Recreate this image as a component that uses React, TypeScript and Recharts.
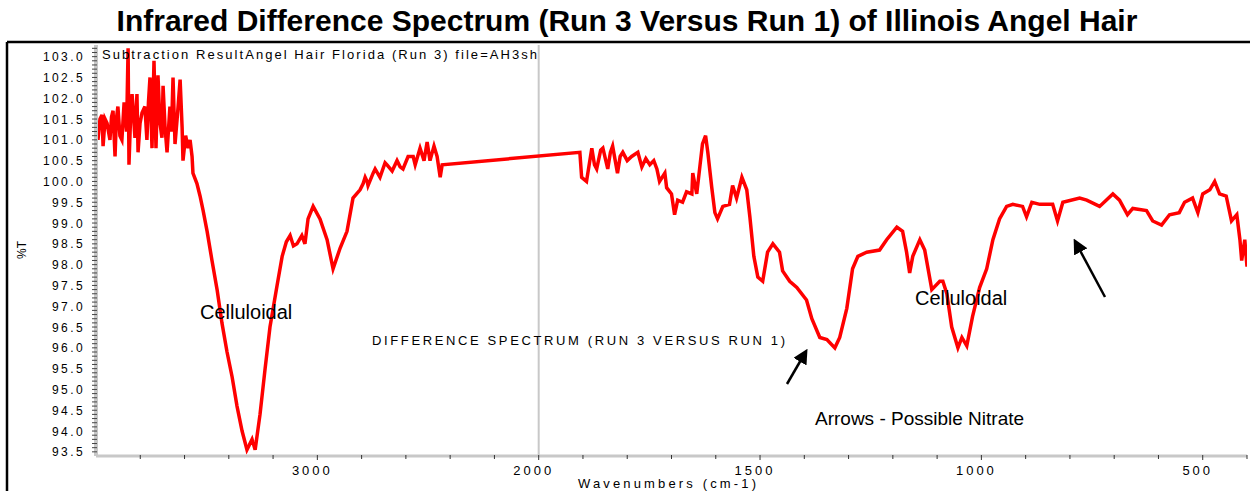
import React from "react";
import { LineChart, Line, XAxis, YAxis, ReferenceLine } from "recharts";

const W = 1250;
const H = 491;
const PLOT_LEFT = 96;
const PLOT_BOTTOM = 456;
const FONT = "Liberation Sans, Arial, sans-serif";

// wavenumber (cm-1), high to low
const wavenumbers = [
  3995, 3991, 3982, 3973, 3968, 3959, 3950, 3937, 3930, 3923, 3914, 3908, 3901, 3892, 3883, 3873,
  3862, 3855, 3851, 3844, 3837, 3824, 3815, 3810, 3801, 3792, 3779, 3770, 3763, 3756, 3747, 3738,
  3729, 3720, 3711, 3702, 3697, 3688, 3679, 3666, 3659, 3652, 3643, 3632, 3620, 3611, 3607, 3595,
  3584, 3575, 3566, 3562, 3544, 3530, 3516, 3498, 3476, 3453, 3431, 3408, 3385, 3363, 3340,
  3318, 3295, 3281, 3259, 3236, 3214, 3182, 3159, 3140, 3123, 3108, 3092, 3070, 3056, 3042, 3019,
  2988, 2956, 2929, 2897, 2866, 2839, 2807, 2793, 2784, 2775, 2771, 2748, 2739, 2717, 2694, 2685,
  2662, 2640, 2626, 2613, 2590, 2567, 2558, 2536, 2518, 2504, 2491, 2473, 2459, 2445, 2436,
  1907, 1903, 1892, 1880, 1874, 1869, 1860, 1855, 1844, 1838, 1833, 1822, 1816, 1810, 1800, 1790,
  1776, 1767, 1758, 1749, 1740, 1733, 1727, 1715, 1711, 1700, 1693, 1686, 1675, 1666, 1654, 1652,
  1643, 1636, 1630, 1623, 1618, 1609, 1602, 1596, 1584, 1569, 1562, 1553, 1541, 1530, 1523, 1514,
  1505, 1494, 1483, 1471, 1456, 1449, 1433, 1417, 1395, 1383, 1365, 1349, 1331, 1320, 1304, 1291,
  1279, 1259, 1230, 1214, 1191, 1178, 1169, 1162, 1155, 1139, 1128, 1112, 1094, 1087, 1078, 1067,
  1053, 1044, 1033, 1020, 1004, 988, 974, 959, 943, 929, 907, 898, 886, 868, 839, 828,
  816, 778, 762, 733, 703, 688, 670, 658, 627, 613, 593, 575, 553, 541, 523, 511,
  500, 484, 473, 462, 447, 435, 423, 416, 412, 405, 400,
];

// %T
const transmittance = [
  101.3, 101.0, 101.5, 101.6, 100.85, 101.5, 101.4, 101.0, 101.55, 101.7, 100.6, 101.5, 101.8, 101.1, 101.0, 101.9,
  101.2, 103.2, 100.4, 101.5, 102.1, 101.05, 102.1, 100.7, 101.4, 101.65, 101.8, 101.0, 101.9, 102.5, 100.8, 102.9,
  100.8, 102.55, 101.4, 101.05, 102.3, 101.3, 100.7, 101.8, 101.2, 102.5, 100.9, 101.6, 102.45, 101.3, 100.5, 101.1,
  100.8, 101.0, 100.6, 100.2, 99.95, 99.65, 99.3, 98.8, 98.1, 97.4, 96.6, 95.9, 95.3, 94.6, 94.0,
  93.55, 93.8, 93.55, 94.4, 95.5, 96.5, 97.5, 98.2, 98.55, 98.7, 98.45, 98.5, 98.7, 98.5, 99.1, 99.4,
  99.1, 98.6, 97.9, 98.4, 98.8, 99.6, 99.8, 99.95, 100.1, 100.0, 99.9, 100.2, 100.3, 100.1, 100.45, 100.4,
  100.25, 100.5, 100.35, 100.3, 100.6, 100.6, 100.4, 100.8, 100.5, 100.95, 100.5, 100.85, 100.6, 100.1, 100.4,
  100.7, 100.1, 100.0, 100.8, 100.4, 100.3, 100.75, 100.8, 100.3, 100.7, 100.85, 100.2, 100.6, 100.7, 100.5, 100.6,
  100.7, 100.35, 100.55, 100.4, 100.5, 100.3, 100.0, 100.2, 99.85, 99.7, 99.2, 99.55, 99.5, 99.75, 99.7, 100.2,
  99.7, 100.35, 100.9, 101.1, 100.7, 99.85, 99.25, 99.1, 99.4, 99.45, 99.9, 99.6, 100.1, 99.8, 99.15, 98.2,
  97.7, 97.6, 98.3, 98.5, 98.3, 97.85, 97.6, 97.45, 97.15, 96.7, 96.25, 96.2, 96.0, 96.25, 96.95, 97.9,
  98.2, 98.3, 98.35, 98.6, 98.9, 98.8, 98.3, 97.8, 98.2, 98.6, 98.35, 97.4, 97.6, 97.6, 97.3, 96.5,
  96.0, 96.25, 96.05, 96.75, 97.45, 97.9, 98.6, 99.1, 99.4, 99.45, 99.4, 99.15, 99.5, 99.45, 99.45, 99.05,
  99.5, 99.6, 99.55, 99.4, 99.7, 99.55, 99.2, 99.35, 99.3, 99.05, 98.95, 99.2, 99.25, 99.5, 99.6, 99.25,
  99.7, 99.8, 100.0, 99.7, 99.65, 99.05, 99.2, 98.6, 98.1, 98.6, 97.95,
];

const xLabelled = [3000, 2000, 1500, 1000, 500];
const xTickMarks = [
  3800, 3600, 3400, 3200, 3000, 2800, 2600, 2400, 2200, 2000, 1900, 1800, 1700, 1600, 1500,
  1400, 1300, 1200, 1100, 1000, 900, 800, 700, 600, 500, 400,
];
const yLabelled = [
  93.5, 94.0, 94.5, 95.0, 95.5, 96.0, 96.5, 97.0, 97.5, 98.0, 98.5, 99.0, 99.5, 100.0, 100.5,
  101.0, 101.5, 102.0, 102.5, 103.0,
];
const yTickMarks: number[] = [];
for (let i = 935; i <= 1032; i++) yTickMarks.push(i / 10);

// the instrument plots 4000-2000 at half the scale of 2000-400
const toPos = (w: number) => (w > 2000 ? (4000 - w) / 2 : 1000 + (2000 - w));
const fromPos = (p: number) => (p <= 1000 ? 4000 - 2 * p : 2000 - (p - 1000));

const data = wavenumbers.map((w, i) => ({ pos: toPos(w), t: transmittance[i] }));

const XTick = (props: any) => {
  const { x, payload } = props;
  const w = Math.round(fromPos(payload.value));
  const major = xLabelled.includes(w);
  return (
    <g>
      <line x1={x} x2={x} y1={PLOT_BOTTOM - 1} y2={PLOT_BOTTOM + (major ? 4 : 3)} stroke="#333" />
      {major && (
        <text x={x - 5} y={475} textAnchor="middle" fontSize={13} letterSpacing={3} fill="#000" fontFamily={FONT}>
          {w}
        </text>
      )}
    </g>
  );
};

const YTick = (props: any) => {
  const { y, payload } = props;
  const v = payload.value;
  const major = yLabelled.some((l) => Math.abs(l - v) < 1e-6);
  return (
    <g>
      <line x1={PLOT_LEFT - 4} x2={PLOT_LEFT + 1} y1={y} y2={y} stroke="#444" />
      {major && (
        <text x={PLOT_LEFT - 11} y={y + 4.5} textAnchor="end" fontSize={12} letterSpacing={2.4} fill="#000" fontFamily={FONT}>
          {v.toFixed(1)}
        </text>
      )}
    </g>
  );
};

const Arrow = ({ x1, y1, x2, y2 }: { x1: number; y1: number; x2: number; y2: number }) => (
  <line x1={x1} y1={y1} x2={x2} y2={y2} stroke="#000" strokeWidth={2.5} markerEnd="url(#head)" />
);

export default function App() {
  return (
    <div style={{ position: "fixed", left: 0, top: 0, width: W, height: H, background: "#fff" }}>
      <LineChart width={W} height={H} data={data} margin={{ top: 45, right: 3, bottom: 0, left: 6 }}>
        <XAxis
          type="number"
          dataKey="pos"
          domain={[0, 2600]}
          ticks={xTickMarks.map(toPos)}
          interval={0}
          allowDataOverflow
          height={35}
          tickLine={false}
          tick={XTick}
          axisLine={{ stroke: "#c8c8c8", strokeWidth: 3 }}
        />
        <YAxis
          type="number"
          domain={[93.4, 103.28]}
          ticks={yTickMarks}
          interval={0}
          allowDataOverflow
          width={90}
          tickLine={false}
          tick={YTick}
          axisLine={{ stroke: "#c8c8c8", strokeWidth: 4 }}
        />
        <ReferenceLine x={1000} stroke="#c8c8c8" strokeWidth={2} />
        <Line
          type="linear"
          dataKey="t"
          stroke="#ff0000"
          strokeWidth={3.5}
          dot={false}
          isAnimationActive={false}
        />
      </LineChart>
      <svg
        width={W}
        height={H}
        style={{ position: "absolute", left: 0, top: 0, pointerEvents: "none" }}
        fontFamily={FONT}
      >
        <defs>
          <marker id="head" markerWidth="6" markerHeight="6" refX="4" refY="3" orient="auto" markerUnits="strokeWidth">
            <path d="M0,0 L6,3 L0,6 z" fill="#000" />
          </marker>
        </defs>
        <line x1={7} y1={42} x2={W} y2={42} stroke="#000" strokeWidth={2.5} />
        <line x1={7} y1={42} x2={7} y2={H} stroke="#000" strokeWidth={2.5} />
        <text x={627} y={31} textAnchor="middle" fontSize={30} fontWeight="bold" fill="#000">
          Infrared Difference Spectrum (Run 3 Versus Run 1) of Illinois Angel Hair
        </text>
        <text x={102} y={59} fontSize={13} textLength={435} lengthAdjust="spacing" fill="#000">
          Subtraction ResultAngel Hair Florida (Run 3) file=AH3sh
        </text>
        <text x={200} y={319} fontSize={20} fill="#000">Celluloidal</text>
        <text x={915} y={305} fontSize={20} fill="#000">Celluloidal</text>
        <text x={372} y={345} fontSize={13} textLength={413} lengthAdjust="spacing" fill="#000">
          DIFFERENCE SPECTRUM (RUN 3 VERSUS RUN 1)
        </text>
        <text x={815} y={425} fontSize={19} fill="#000">Arrows - Possible Nitrate</text>
        <text x={578} y={488} fontSize={13} textLength={178} lengthAdjust="spacing" fill="#000">
          Wavenumbers (cm-1)
        </text>
        <text x={26} y={250} fontSize={12} textAnchor="middle" transform="rotate(-90 26 250)" fill="#000">
          %T
        </text>
        <Arrow x1={787} y1={384} x2={805} y2={353} />
        <Arrow x1={1105} y1={297} x2={1076} y2={243} />
      </svg>
    </div>
  );
}
